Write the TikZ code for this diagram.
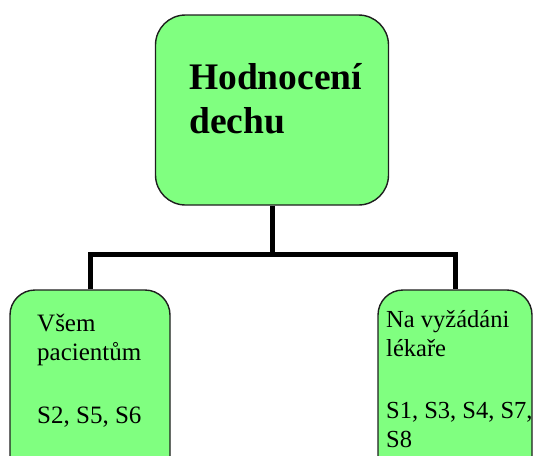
\documentclass[tikz,border=0pt]{standalone}
\usepackage{fontspec}
\setmainfont{Liberation Serif}
\definecolor{boxgreen}{RGB}{128,255,128}
\definecolor{boxedge}{RGB}{30,30,30}
\begin{document}
\begin{tikzpicture}[x=1pt,y=-1pt,
  greenbox/.style={draw=boxedge,line width=1.4pt,fill=boxgreen,rectangle,inner sep=0pt},
  conn/.style={line width=5pt,line join=miter,draw=black},
  toptext/.style={anchor=base west,inner sep=0pt,font=\fontsize{37.5}{44}\selectfont\bfseries},
  subtext/.style={anchor=base west,inner sep=0pt,font=\fontsize{25}{30}\selectfont},
  sidetext/.style={anchor=base west,inner sep=0pt,font=\fontsize{24.5}{30}\selectfont}]
\useasboundingbox (0,0) rectangle (534,455);
\clip (0,0) rectangle (534,455);
% boxes
\node[greenbox,rounded corners=30pt,minimum width=233pt,minimum height=190pt] (top) at (272,110) {};
\node[greenbox,rounded corners=25pt,minimum width=160pt,minimum height=200pt] (left) at (90,390) {};
\node[greenbox,rounded corners=25pt,minimum width=154pt,minimum height=200pt] (right) at (455,390) {};
% connectors
\draw[conn] (top.south) -- ++(0,49) coordinate (junction);
\draw[conn] (left.north) |- (junction) -| (right.north);
% texts
\node[toptext] (t1) at (189,89.5) {Hodnocení};
\node[toptext] (t2) at (189,133.5) {dechu};
\node[subtext] (l1) at (37,331) {Všem};
\node[subtext] (l2) at (37,360) {pacientům};
\node[subtext] (l3) at (37,423) {S2, S5, S6};
\node[sidetext] (r1) at (386,327) {Na vyžádáni};
\node[sidetext] (r2) at (386,356) {lékaře};
\node[sidetext] (r3) at (386,418) {S1, S3, S4, S7,};
\node[sidetext] (r4) at (386,447) {S8};
\end{tikzpicture}
\end{document}
